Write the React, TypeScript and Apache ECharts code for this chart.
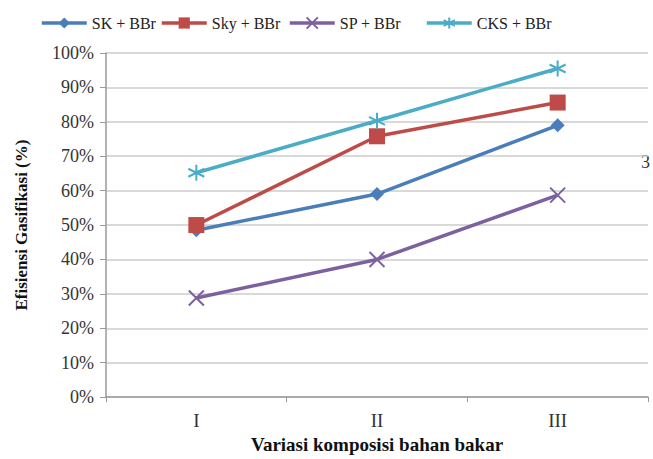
import React, { useEffect, useRef } from "react";
import * as echarts from "echarts";

const categories = ["I", "II", "III"];
const seriesNames = ["SK + BBr", "Sky + BBr", "SP + BBr", "CKS + BBr"];
const skValues = [48.5, 59, 79];
const skyValues = [50, 75.8, 85.6];
const spValues = [28.8, 40, 58.7];
const cksValues = [65.2, 80.3, 95.5];
const yTicks = [0, 10, 20, 30, 40, 50, 60, 70, 80, 90, 100];

const colors = ["#4a7ebb", "#be4b48", "#7d60a0", "#4bacc6"];
const symbols = [
  "diamond",
  "rect",
  "path://M0,0L10,10M10,0L0,10",
  "path://M5,0L5,10M0,2.5L10,7.5M0,7.5L10,2.5",
];
const symbolSizes = [14, 16, 15, 16];
const legendLefts = [35, 155, 283, 420];
const font = "'Liberation Serif', 'Times New Roman', serif";

export default function App() {
  const ref = useRef<HTMLDivElement>(null);
  useEffect(() => {
    if (!ref.current) return;
    const chart = echarts.init(ref.current, undefined, { renderer: "svg" });
    const values = [skValues, skyValues, spValues, cksValues];
    chart.setOption({
      animation: false,
      backgroundColor: "#ffffff",
      textStyle: { fontFamily: font },
      legend: seriesNames.map((n, i) => ({
        data: [n],
        left: legendLefts[i],
        top: 10,
        itemWidth: 45,
        itemHeight: 14,
        itemGap: 5,
        lineStyle: { width: 3.5 },
        textStyle: { fontFamily: font, fontSize: 16, color: "#222" },
      })),
      grid: { left: 106, right: 5, top: 53, bottom: 55 },
      xAxis: {
        type: "category",
        data: categories,
        boundaryGap: true,
        name: "Variasi komposisi bahan bakar",
        nameLocation: "middle",
        nameGap: 33,
        nameTextStyle: { fontFamily: font, fontSize: 19, fontWeight: "bold", color: "#111" },
        axisLine: { lineStyle: { color: "#999", width: 1.5 } },
        axisTick: { show: true, length: 5, lineStyle: { color: "#999" } },
        axisLabel: { fontFamily: font, fontSize: 19, color: "#333", margin: 14 },
      },
      yAxis: {
        type: "value",
        min: 0,
        max: 100,
        interval: 10,
        name: "Efisiensi Gasifikasi (%)",
        nameLocation: "middle",
        nameGap: 76,
        nameTextStyle: { fontFamily: font, fontSize: 17, fontWeight: "bold", color: "#111" },
        axisLine: { show: true, lineStyle: { color: "#999", width: 1.5 } },
        axisTick: { show: true, length: 6, lineStyle: { color: "#999" } },
        axisLabel: {
          fontFamily: font,
          fontSize: 18,
          color: "#333",
          margin: 12,
          formatter: (v: number) => (yTicks.includes(v) ? v + "%" : ""),
        },
        splitLine: { lineStyle: { color: "#cccccc", width: 1.5 } },
      },
      graphic: [
        {
          type: "text",
          left: 641,
          top: 153,
          style: { text: "3", fontFamily: font, fontSize: 18, fill: "#333" },
        },
      ],
      series: seriesNames.map((n, i) => ({
        name: n,
        type: "line",
        data: values[i],
        symbol: symbols[i],
        symbolSize: symbolSizes[i],
        showAllSymbol: true,
        lineStyle: { color: colors[i], width: 3.5 },
        itemStyle: {
          color: colors[i],
          borderColor: colors[i],
          borderWidth: i >= 2 ? 2 : 0,
        },
        z: 2 + i,
      })),
    });
    return () => chart.dispose();
  }, []);
  return <div ref={ref} style={{ width: 653, height: 459, position: "absolute", left: 0, top: 0 }} />;
}
